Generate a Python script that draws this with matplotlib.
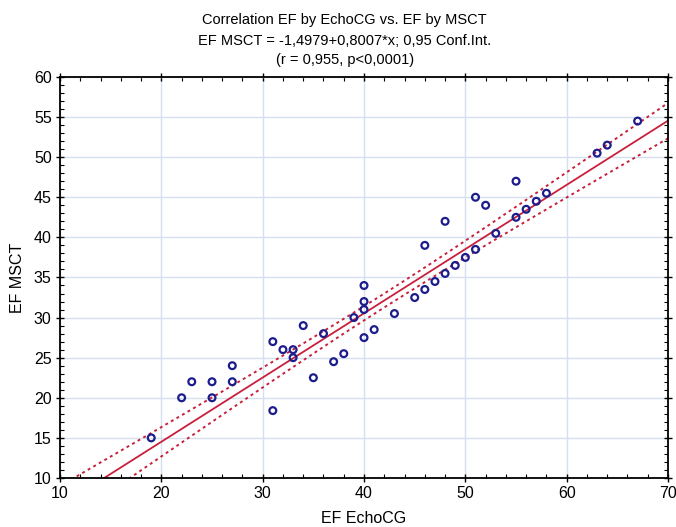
import numpy as np
import matplotlib.pyplot as plt
from matplotlib.ticker import MultipleLocator

ef_echo = [19, 22, 23, 25, 25, 27, 27, 31, 31, 32, 33, 33, 34, 35, 36, 37, 38, 39,
           40, 40, 40, 40, 41, 43, 45, 46, 46, 47, 48, 48, 49, 50, 51, 51, 52, 53,
           55, 55, 56, 57, 58, 63, 64, 67]
ef_msct = [15, 20, 22, 20, 22, 22, 24, 27, 18.4, 26, 26, 25, 29, 22.5, 28, 24.5, 25.5, 30,
           34, 32, 31, 27.5, 28.5, 30.5, 32.5, 39, 33.5, 34.5, 35.5, 42, 36.5, 37.5, 38.5, 45, 44, 40.5,
           47, 42.5, 43.5, 44.5, 45.5, 50.5, 51.5, 54.5]
intercept, slope = -1.4979, 0.8007

plt.rcParams['font.family'] = ['Liberation Sans', 'DejaVu Sans']

x = np.array(ef_echo, dtype=float)
y = np.array(ef_msct, dtype=float)
n = len(x)
resid = y - (intercept + slope * x)
s = np.sqrt(np.sum(resid ** 2) / (n - 2))
sxx = np.sum((x - x.mean()) ** 2)
t = 2.018

xs = np.linspace(10, 70, 200)
fit = intercept + slope * xs
half = t * s * np.sqrt(1 / n + (xs - x.mean()) ** 2 / sxx)

fig = plt.figure(figsize=(6.76, 5.27), dpi=100)
ax = fig.add_axes([0.0888, 0.093, 0.8994, 0.761])

red = '#c8203c'
ax.plot(xs, fit, color=red, lw=1.3, zorder=2)
ax.plot(xs, fit + half, color=red, lw=1.4, ls=(0, (1.5, 1.8)), zorder=2)
ax.plot(xs, fit - half, color=red, lw=1.4, ls=(0, (1.5, 1.8)), zorder=2)
ax.scatter(x, y, s=24, facecolors='none', edgecolors='#1c1c8c', linewidths=1.6, zorder=3)

ax.set_xlim(10, 70)
ax.set_ylim(10, 60)
ax.xaxis.set_major_locator(MultipleLocator(10))
ax.xaxis.set_minor_locator(MultipleLocator(2))
ax.yaxis.set_major_locator(MultipleLocator(5))
ax.yaxis.set_minor_locator(MultipleLocator(1))
ax.grid(True, which='major', color='#d4e0ee', lw=1.0, zorder=0)
ax.set_axisbelow(True)
ax.tick_params(which='major', direction='inout', length=6, width=1, top=True, right=True,
               labelsize=11.5, pad=3)
ax.tick_params(which='minor', direction='in', length=3, width=0.8, top=True, right=True)
for sp in ax.spines.values():
    sp.set_linewidth(1.3)

ax.set_xlabel('EF EchoCG', fontsize=11.5, labelpad=7)
ax.set_ylabel('EF MSCT', fontsize=11.5, labelpad=6)

fig.text(0.51, 0.962, 'Correlation EF by EchoCG vs. EF by MSCT', ha='center', va='center', fontsize=10.5)
fig.text(0.51, 0.922, 'EF MSCT = -1,4979+0,8007*x; 0,95 Conf.Int.', ha='center', va='center', fontsize=10.5)
fig.text(0.51, 0.887, '(r = 0,955, p<0,0001)', ha='center', va='center', fontsize=10.5)

fig.savefig('out.png', dpi=100)
